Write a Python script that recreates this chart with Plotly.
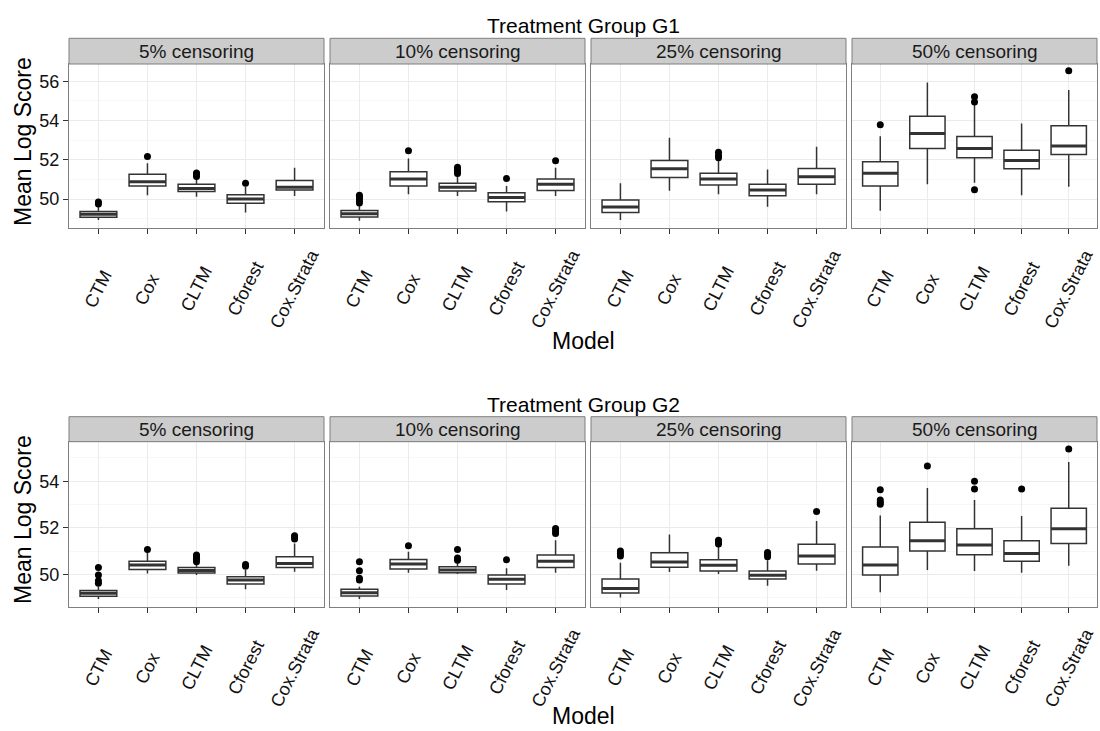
import plotly.graph_objects as go

W, H = 1100, 731

MODELS = ["CTM", "Cox", "CLTM", "Cforest", "Cox.Strata"]
CENSORING = ["5% censoring", "10% censoring", "25% censoring", "50% censoring"]
GROUPS = ["Treatment Group G1", "Treatment Group G2"]

# Box statistics per censoring level (rows) and model (columns)
G1_Q1 = [[49.07, 50.66, 50.39, 49.78, 50.46],
         [49.08, 50.66, 50.41, 49.86, 50.44],
         [49.32, 51.10, 50.71, 50.17, 50.75],
         [50.66, 52.58, 52.10, 51.54, 52.27]]
G1_MED = [[49.22, 50.88, 50.54, 50.00, 50.60],
          [49.25, 51.02, 50.60, 50.08, 50.75],
          [49.59, 51.54, 51.02, 50.46, 51.14],
          [51.31, 53.34, 52.58, 51.97, 52.70]]
G1_Q3 = [[49.37, 51.26, 50.75, 50.22, 50.95],
         [49.42, 51.39, 50.81, 50.32, 51.02],
         [49.95, 51.97, 51.31, 50.75, 51.56],
         [51.90, 54.22, 53.19, 52.49, 53.73]]
G1_LO = [[48.93, 50.20, 50.12, 49.32, 50.15],
         [48.90, 50.24, 50.15, 49.36, 50.15],
         [48.93, 50.42, 50.24, 49.61, 50.25],
         [49.41, 50.76, 50.83, 50.20, 50.63]]
G1_HI = [[49.61, 51.82, 51.05, 50.63, 51.60],
         [49.70, 52.07, 51.22, 50.66, 51.60],
         [50.80, 53.12, 51.98, 51.51, 52.66],
         [53.20, 55.94, 54.87, 53.85, 55.55]]
G1_OUT = [[[49.75, 49.85], [52.17], [51.15, 51.25, 51.33], [50.81], []],
          [[49.80, 49.90, 50.00, 50.10, 50.20], [52.46], [51.30, 51.40, 51.50, 51.62], [51.05], [51.95]],
          [[], [], [52.10, 52.22, 52.38], [], []],
          [[53.78], [], [50.47, 54.95, 55.21], [], [56.53]]]

G2_Q1 = [[49.06, 50.21, 50.06, 49.59, 50.29],
         [49.07, 50.23, 50.07, 49.59, 50.29],
         [49.20, 50.30, 50.14, 49.80, 50.44],
         [49.97, 51.00, 50.84, 50.56, 51.33]]
G2_MED = [[49.19, 50.40, 50.17, 49.76, 50.47],
          [49.21, 50.44, 50.19, 49.79, 50.56],
          [49.39, 50.53, 50.39, 49.96, 50.79],
          [50.40, 51.44, 51.26, 50.90, 51.96]]
G2_Q3 = [[49.31, 50.56, 50.29, 49.90, 50.76],
         [49.36, 50.64, 50.33, 49.97, 50.83],
         [49.80, 50.93, 50.63, 50.14, 51.29],
         [51.17, 52.24, 51.96, 51.44, 52.84]]
G2_LO = [[48.94, 50.04, 49.97, 49.36, 50.11],
         [48.94, 50.07, 50.01, 49.33, 50.07],
         [49.01, 50.10, 50.01, 49.51, 50.16],
         [49.23, 50.19, 50.14, 50.07, 50.37]]
G2_HI = [[49.47, 50.93, 50.43, 50.19, 51.33],
         [49.47, 50.97, 50.50, 50.26, 51.47],
         [50.50, 51.71, 51.19, 50.61, 52.29],
         [52.53, 53.71, 53.19, 52.51, 54.83]]
G2_OUT = [[[49.62, 49.72, 49.97, 50.29], [51.07], [50.54, 50.65, 50.75, 50.83], [50.35, 50.42], [51.52, 51.60, 51.66]],
          [[49.76, 49.83, 50.16, 50.54], [51.23], [50.61, 50.70, 51.07], [50.63], [51.76, 51.86, 51.97]],
          [[50.79, 50.90, 51.00], [], [51.30, 51.40, 51.47], [50.76, 50.85, 50.94], [52.70]],
          [[53.01, 53.10, 53.19, 53.63], [54.66], [53.67, 54.00], [53.67], [55.39]]]

STATS = [(G1_Q1, G1_MED, G1_Q3, G1_LO, G1_HI, G1_OUT),
         (G2_Q1, G2_MED, G2_Q3, G2_LO, G2_HI, G2_OUT)]
Y_RANGES = [[48.51, 56.88], [48.61, 55.70]]

# Layout geometry in pixels
COL_X = [(69, 324), (330, 585), (591, 846), (852, 1097)]
ROW_PANEL = [(64, 228.3), (441.7, 606.7)]      # top, bottom of plotting area
ROW_STRIP = [(38.3, 64), (416.7, 441.7)]
ROW_TITLE_Y = [25.5, 404]
ROW_XTITLE_Y = [341, 716]
ROW_YTITLE_Y = [142, 520]
LABEL_OFFSET = 61          # centre of rotated category labels below the panel

FONT = "Liberation Sans, Arial, Helvetica, sans-serif"
BOX_W = 0.75


def px(x):
    return x / W


def py(y):
    return 1 - y / H


fig = go.Figure()
shapes, annotations = [], []
layout = {}

for r in range(2):
    q1s, meds, q3s, los, his, outs = STATS[r]
    for c in range(4):
        n = r * 4 + c + 1
        xa = "x" if n == 1 else f"x{n}"
        ya = "y" if n == 1 else f"y{n}"
        pos = list(range(1, len(MODELS) + 1))

        fig.add_trace(go.Box(
            x=pos, q1=q1s[c], median=meds[c], q3=q3s[c],
            lowerfence=los[c], upperfence=his[c],
            width=BOX_W, whiskerwidth=0,
            fillcolor="white", line=dict(color="#333333", width=1.5),
            xaxis=xa, yaxis=ya, showlegend=False, hoverinfo="skip"))

        # thicker median bars drawn over each box
        mx, my = [], []
        for i, m in zip(pos, meds[c]):
            mx += [i - BOX_W / 2, i + BOX_W / 2, None]
            my += [m, m, None]
        fig.add_trace(go.Scatter(
            x=mx, y=my, mode="lines", line=dict(color="#333333", width=3),
            xaxis=xa, yaxis=ya, showlegend=False, hoverinfo="skip"))

        # outlying points
        ox, oy = [], []
        for i, vals in zip(pos, outs[c]):
            for v in vals:
                ox.append(i)
                oy.append(v)
        fig.add_trace(go.Scatter(
            x=ox, y=oy, mode="markers", marker=dict(color="black", size=7),
            xaxis=xa, yaxis=ya, showlegend=False, hoverinfo="skip"))

        x0, x1 = COL_X[c]
        top, bot = ROW_PANEL[r]
        layout[f"xaxis{'' if n == 1 else n}"] = dict(
            domain=[px(x0), px(x1)], anchor=ya, range=[0.4, 5.6],
            tickmode="array", tickvals=pos, showticklabels=False, automargin=False,
            ticks="outside", ticklen=5, tickcolor="#333333", tickwidth=1,
            showline=True, mirror=True, linecolor="#7f7f7f", linewidth=1,
            showgrid=True, gridcolor="#ebebeb", gridwidth=1, zeroline=False,
            fixedrange=True)
        layout[f"yaxis{'' if n == 1 else n}"] = dict(
            domain=[py(bot), py(top)], anchor=xa, range=Y_RANGES[r],
            tick0=0, dtick=2, automargin=False,
            showticklabels=(c == 0), ticks="outside" if c == 0 else "",
            ticklen=5, tickcolor="#333333", tickwidth=1,
            tickfont=dict(family=FONT, size=18, color="#111111"),
            showline=True, mirror=True, linecolor="#7f7f7f", linewidth=1,
            showgrid=True, gridcolor="#ebebeb", gridwidth=1, zeroline=False,
            minor=dict(dtick=1, tick0=0, showgrid=True, gridcolor="#f7f7f7",
                       gridwidth=1, ticks=""),
            fixedrange=True)

        # rotated category labels, centred under each tick
        for i, name in zip(pos, MODELS):
            annotations.append(dict(text=name, xref=xa, yref="paper",
                                    x=i, y=py(bot + LABEL_OFFSET),
                                    xanchor="center", yanchor="middle",
                                    textangle=-63, showarrow=False,
                                    font=dict(family=FONT, size=18, color="#111111")))

        # facet strip
        s_top, s_bot = ROW_STRIP[r]
        shapes.append(dict(type="rect", xref="paper", yref="paper",
                           x0=px(x0), x1=px(x1), y0=py(s_bot), y1=py(s_top),
                           fillcolor="#cccccc", line=dict(color="#7f7f7f", width=1)))
        annotations.append(dict(text=CENSORING[c], xref="paper", yref="paper",
                                x=px((x0 + x1) / 2), y=py((s_top + s_bot) / 2),
                                xanchor="center", yanchor="middle", showarrow=False,
                                font=dict(family=FONT, size=19, color="#1a1a1a")))

    mid_x = px((COL_X[0][0] + COL_X[-1][1]) / 2)
    annotations.append(dict(text=GROUPS[r], xref="paper", yref="paper",
                            x=mid_x, y=py(ROW_TITLE_Y[r]), xanchor="center",
                            yanchor="middle", showarrow=False,
                            font=dict(family=FONT, size=21, color="black")))
    annotations.append(dict(text="Model", xref="paper", yref="paper",
                            x=mid_x, y=py(ROW_XTITLE_Y[r]), xanchor="center",
                            yanchor="middle", showarrow=False,
                            font=dict(family=FONT, size=23, color="black")))
    annotations.append(dict(text="Mean Log Score", xref="paper", yref="paper",
                            x=px(23), y=py(ROW_YTITLE_Y[r]), xanchor="center",
                            yanchor="middle", showarrow=False, textangle=-90,
                            font=dict(family=FONT, size=23, color="black")))

fig.update_layout(
    width=W, height=H,
    margin=dict(l=0, r=0, t=0, b=0, autoexpand=False),
    paper_bgcolor="white", plot_bgcolor="white",
    shapes=shapes, annotations=annotations,
    showlegend=False,
    **layout)

fig.write_html("out.html")
